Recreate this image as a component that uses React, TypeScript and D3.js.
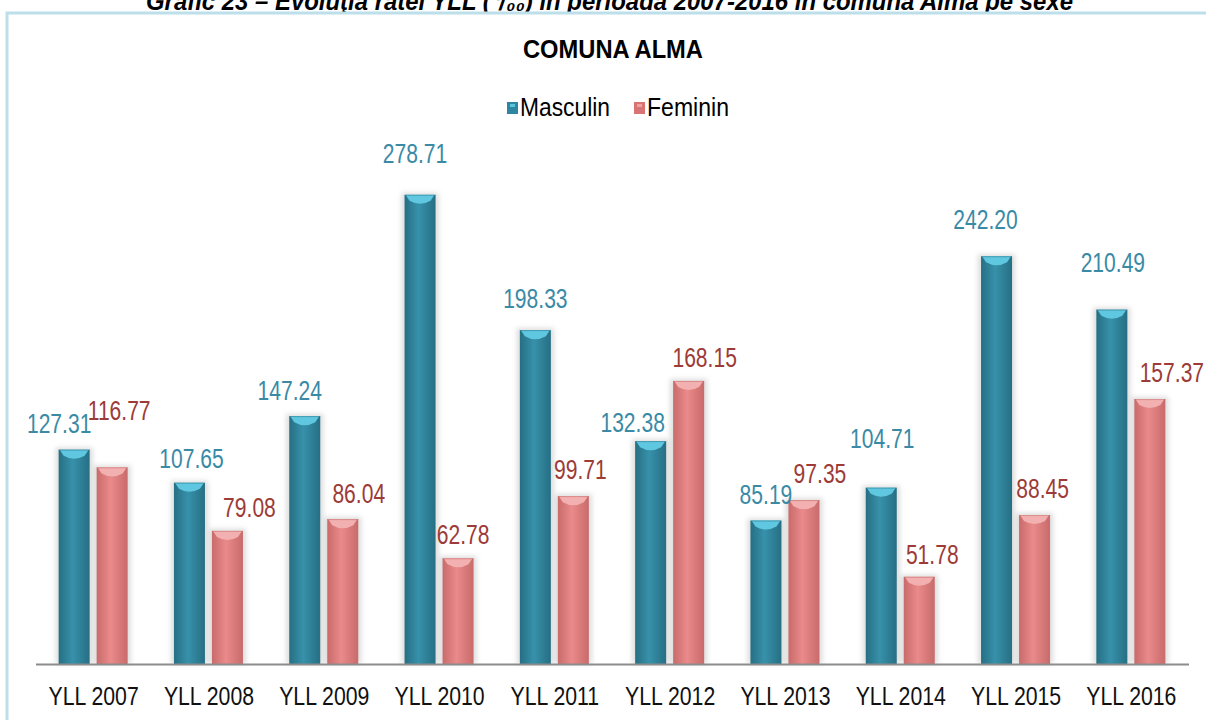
import React, { useEffect, useRef } from 'react';
import * as d3 from 'd3';

const years = ['YLL 2007', 'YLL 2008', 'YLL 2009', 'YLL 2010', 'YLL 2011', 'YLL 2012', 'YLL 2013', 'YLL 2014', 'YLL 2015', 'YLL 2016'];
const masculin = [127.31, 107.65, 147.24, 278.71, 198.33, 132.38, 85.19, 104.71, 242.2, 210.49];
const feminin = [116.77, 79.08, 86.04, 62.78, 99.71, 168.15, 97.35, 51.78, 88.45, 157.37];
const seriesNames = ['Masculin', 'Feminin'];

// hand placed data labels (offsets from the default spot above each bar)
const mLabelDx = [-15, 2, -15, -5, 0, -18, 0, 1, -11, 1];
const mLabelGap = [17, 15, 16, 32, 22, 9, 17, 40, 27, 38];
const fLabelDx = [7, 22, 16, 5, 7, 16, 16, 13, 8, 22];
const fLabelGap = [47, 14, 16, 14, 17, 14, 17, 13, 17, 17];

const FONT = '"Liberation Sans", Arial, sans-serif';

function App() {
  const ref = useRef<SVGSVGElement>(null);

  useEffect(() => {
    const svg = d3.select(ref.current);
    svg.selectAll('*').remove();

    const W = 1206;
    const H = 720;
    const left = 36;
    const right = 1189;
    const base = 664;

    const defs = svg.append('defs');
    const mkGrad = (id: string, edge: string, mid: string) => {
      const g = defs.append('linearGradient').attr('id', id).attr('x1', 0).attr('x2', 1).attr('y1', 0).attr('y2', 0);
      g.append('stop').attr('offset', '0%').attr('stop-color', edge);
      g.append('stop').attr('offset', '45%').attr('stop-color', mid);
      g.append('stop').attr('offset', '100%').attr('stop-color', edge);
    };
    mkGrad('gm', '#266f84', '#3791aa');
    mkGrad('gf', '#c96b6b', '#ea8a8a');
    const blur = defs.append('filter').attr('id', 'sh').attr('x', '-30%').attr('y', '-10%').attr('width', '160%').attr('height', '120%');
    blur.append('feGaussianBlur').attr('stdDeviation', 2.5);

    // narrow-looking text: scaled horizontally around its anchor
    const narrow = (g: any, tx: number, ty: number, txt: string, size: number, sx: number, anchor = 'middle') =>
      g.append('text')
        .attr('transform', `translate(${tx},${ty}) scale(${sx},1)`)
        .attr('text-anchor', anchor)
        .attr('font-family', FONT)
        .attr('font-size', size)
        .text(txt);

    // caption (cut off at the top of the page)
    svg.append('text')
      .attr('x', 146).attr('y', 10)
      .attr('textLength', 927).attr('lengthAdjust', 'spacingAndGlyphs')
      .attr('font-family', FONT).attr('font-size', 25).attr('font-weight', 'bold').attr('font-style', 'italic')
      .text('Grafic 23 – Evoluţia ratei YLL (⁰/₀₀) în perioada 2007-2016 în comuna Alma pe sexe');

    // frame
    svg.append('rect')
      .attr('x', 7).attr('y', 13).attr('width', W + 20).attr('height', H + 20)
      .attr('fill', 'white').attr('stroke', '#bcdfe9').attr('stroke-width', 3);

    svg.append('text')
      .attr('x', 523).attr('y', 58)
      .attr('textLength', 180).attr('lengthAdjust', 'spacingAndGlyphs')
      .attr('font-family', FONT).attr('font-size', 25).attr('font-weight', 'bold')
      .text('COMUNA ALMA');

    // legend
    const legend = [
      { name: seriesNames[0], x: 507, len: 90, fill: '#2e86a0', cap: '#5cc4dc' },
      { name: seriesNames[1], x: 634, len: 82, fill: '#d97474', cap: '#eea3a3' },
    ];
    legend.forEach((l) => {
      svg.append('rect').attr('x', l.x).attr('y', 102).attr('width', 11).attr('height', 12).attr('fill', l.fill);
      svg.append('rect').attr('x', l.x + 3).attr('y', 104).attr('width', 5).attr('height', 3).attr('fill', l.cap);
      svg.append('text')
        .attr('x', l.x + 13).attr('y', 116)
        .attr('textLength', l.len).attr('lengthAdjust', 'spacingAndGlyphs')
        .attr('font-family', FONT).attr('font-size', 25)
        .text(l.name);
    });

    const x = d3.scaleBand().domain(years).range([left, right]);
    const y = d3.scaleLinear().domain([0, 300]).range([base, base - 505]);

    const bw = 31;
    const series = [
      { values: masculin, off: -35, grad: 'url(#gm)', cap: '#5fc7df', capEdge: '#2a7d95', label: '#3a8aa6', dx: mLabelDx, gap: mLabelGap },
      { values: feminin, off: 3, grad: 'url(#gf)', cap: '#f3b0b0', capEdge: '#c46868', label: '#9c3b37', dx: fLabelDx, gap: fLabelGap },
    ];

    const bars = svg.append('g');
    series.forEach((s) => {
      years.forEach((yr, i) => {
        const cx = x(yr)! + x.bandwidth() / 2;
        const x0 = cx + s.off;
        const top = y(s.values[i]);
        bars.append('rect')
          .attr('x', x0 - 3).attr('y', top - 2).attr('width', bw + 6).attr('height', base - top + 2)
          .attr('fill', '#bbbbbb').attr('opacity', 0.5).attr('filter', 'url(#sh)');
        bars.append('rect')
          .attr('x', x0).attr('y', top).attr('width', bw).attr('height', base - top)
          .attr('fill', s.grad);
        // bevelled top
        bars.append('path')
          .attr('d', `M${x0 + 1},${top} L${x0 + bw - 1},${top} L${x0 + bw - 5},${top + 6} Q${x0 + bw / 2},${top + 12} ${x0 + 5},${top + 6} Z`)
          .attr('fill', s.cap);
        bars.append('line')
          .attr('x1', x0).attr('x2', x0 + bw).attr('y1', top + 0.5).attr('y2', top + 0.5)
          .attr('stroke', s.capEdge).attr('stroke-width', 1).attr('opacity', 0.5);
      });
    });

    const labels = svg.append('g');
    series.forEach((s) => {
      years.forEach((yr, i) => {
        const cx = x(yr)! + x.bandwidth() / 2 + s.off + bw / 2 + s.dx[i];
        const top = y(s.values[i]);
        narrow(labels, cx, top - s.gap[i], s.values[i].toFixed(2), 27, 0.78)
          .attr('fill', s.label);
      });
    });

    // axis
    svg.append('line')
      .attr('x1', left).attr('x2', right).attr('y1', base + 0.5).attr('y2', base + 0.5)
      .attr('stroke', '#8c8c8c').attr('stroke-width', 2);

    const cats = svg.append('g');
    years.forEach((d) => {
      narrow(cats, x(d)! + x.bandwidth() / 2, 705, d, 25, 0.85).attr('fill', '#111');
    });
  }, []);

  return (
    <svg
      ref={ref}
      width={1206}
      height={720}
      style={{ position: 'fixed', left: 0, top: 0, background: 'white' }}
    />
  );
}

export default App;
